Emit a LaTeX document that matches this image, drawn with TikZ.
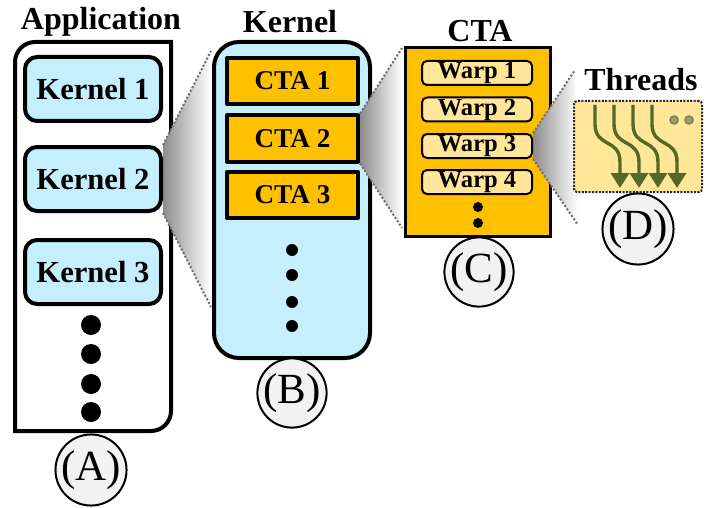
\documentclass[tikz,border=0pt]{standalone}
\usepackage{fontspec}
\setmainfont{Liberation Serif}
\usetikzlibrary{arrows.meta,calc,positioning}
\definecolor{kblue}{RGB}{198,239,254}
\definecolor{ctaor}{RGB}{255,192,0}
\definecolor{wyel}{RGB}{255,230,153}
\definecolor{thrgreen}{RGB}{84,106,36}
\definecolor{tagbg}{RGB}{242,242,242}
\definecolor{zgray}{RGB}{110,110,110}
\pgfdeclarelayer{frame}
\pgfdeclarelayer{zoom}
\pgfsetlayers{frame,zoom,main}
\tikzset{
  every picture/.style={line join=round},
  % Ueberschriften
  title/.style={font=\fontsize{16}{18}\selectfont\bfseries},
  % Kaesten
  kbox/.style={draw, line width=2pt, rounded corners=6pt, fill=kblue, minimum width=68pt,
    minimum height=32pt, inner sep=0pt, font=\fontsize{15.3}{17}\selectfont\bfseries},
  ctabox/.style={draw, line width=2pt, fill=ctaor, minimum width=65.5pt, minimum height=23pt,
    inner sep=0pt, font=\fontsize{13.6}{15}\selectfont\bfseries},
  warpbox/.style={draw, line width=1pt, rounded corners=2.5pt, fill=wyel, minimum width=55pt,
    minimum height=12pt, inner sep=0pt, font=\fontsize{12.3}{13}\selectfont\bfseries},
  bigdot/.style={circle, fill, inner sep=0pt, minimum size=#1},
  tag/.style={circle, draw, line width=1pt, fill=tagbg, minimum size=33pt, inner sep=0pt,
    font=\fontsize{21.5}{22}\selectfont},
  % Zoom-Trichter
  zoomline/.style={zgray, line width=1pt, dash pattern=on 1pt off 1pt},
  zoomfill/.style={left color=black!45, right color=white},
  thread/.style={thrgreen, line width=1.7pt, -{Triangle[length=7.5pt,width=9pt]}},
  pebble/.style={circle, draw=gray!80!thrgreen, line width=0.8pt, fill=thrgreen!55!wyel,
    minimum size=4pt, inner sep=0pt},
}
\begin{document}
\begin{tikzpicture}[x=0.5pt, y=-0.5pt]
  \useasboundingbox (0,0) rectangle (706,508);
  % Ueberschriften
  \node[title] (tapp) at (101,22) {Application};
  \node[title] (tkern) at (290,22) {Kernel};
  \node[title] (tcta) at (480,31) {CTA};
  \node[title] (tthr) at (641,80) {Threads};
  % aeussere Rahmen (unten liegend)
  \begin{pgfonlayer}{frame}
    \draw[line width=2pt, fill=white] (15,431) -- (15,62) .. controls (15,51) and (24,42) .. (35,42)
      -- (171,42) -- (171,411) .. controls (171,422) and (162,431) .. (151,431) -- cycle;
    \node[draw, line width=2pt, rounded corners=12.5pt, fill=kblue, minimum width=78pt,
      minimum height=158pt] (kern) at (292,200) {};
    \node[draw, line width=1.5pt, fill=ctaor, minimum width=72.5pt, minimum height=94pt] (cta) at (477.5,142) {};
  \end{pgfonlayer}
  % (A) Application
  \node[kbox] (k1) at (93,89) {Kernel 1};
  \node[kbox] (k2) at (93,179) {Kernel 2};
  \node[kbox] (k3) at (93,272) {Kernel 3};
  \foreach \y [count=\i] in {325,354,384,412}
    \node[bigdot=10pt] (adot\i) at (91,\y) {};
  \node[tag] (la) at (91,470) {(A)};
  % (B) Kernel
  \node[ctabox] (c1) at (292.5,81) {CTA 1};
  \node[ctabox] (c2) at (292.5,138.5) {CTA 2};
  \node[ctabox] (c3) at (292.5,195) {CTA 3};
  \foreach \y [count=\i] in {250,275,302,326}
    \node[bigdot=6pt] (bdot\i) at (292,\y) {};
  \node[tag] (lb) at (292,393) {(B)};
  % (C) CTA
  \foreach \y [count=\i] in {73,109.5,146,182}
    \node[warpbox] (w\i) at (477,\y) {Warp \i};
  \node[bigdot=5pt] (cdot1) at (478,207) {};
  \node[bigdot=5pt] (cdot2) at (478,223) {};
  \node[tag] (lc) at (479,272) {(C)};
  % (D) Threads
  \node[draw=black!85, line width=1pt, dash pattern=on 1pt off 0.7pt, rounded corners=1.5pt,
    fill=wyel, minimum width=64pt, minimum height=45.5pt] (thr) at (638,146.5) {};
  \foreach \sx in {595,614,633,652}
    \draw[thread] (\sx,105) -- (\sx,124) .. controls (\sx,148) and (\sx+25,138) .. (\sx+25,162) -- (\sx+25,188);
  \node[pebble] (o1) at (674,120) {};
  \node[pebble] (o2) at (689,120) {};
  \node[tag] (ld) at (638,229) {(D)};
  % Zoom-Trichter
  \coordinate (bz1) at (211,51);
  \coordinate (bz2) at (211,307);
  \coordinate (cz1) at (402,48);
  \coordinate (cz2) at (402,228);
  \coordinate (dz1) at (575,70);
  \coordinate (dz2) at (578,225);
  \begin{pgfonlayer}{zoom}
    \shade[zoomfill] (k2.north east) -- (bz1) -- (bz2) -- (k2.south east) -- cycle;
    \draw[zoomline] (k2.north east) -- (bz1) (k2.south east) -- (bz2);
    \shade[zoomfill] (c2.north east) -- (cz1) -- (cz2) -- (c2.south east) -- cycle;
    \draw[zoomline] (c2.north east) -- (cz1) (c2.south east) -- (cz2);
    \shade[zoomfill] (w3.north east) -- (dz1) -- (dz2) -- (w3.south east) -- cycle;
    \draw[zoomline] (w3.north east) -- (dz1) (w3.south east) -- (dz2);
  \end{pgfonlayer}
\end{tikzpicture}
\end{document}
